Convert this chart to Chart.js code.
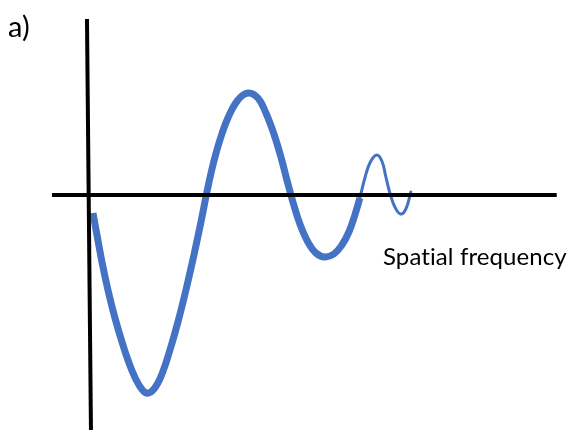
<!DOCTYPE html>
<html>
<head>
<meta charset="utf-8">
<title>Contrast transfer function</title>
<script src="https://cdn.jsdelivr.net/npm/chart.js@4/dist/chart.umd.min.js"></script>
<style>
  html, body { margin: 0; padding: 0; background: #fff; }
  #wrap { width: 573px; height: 430px; }
</style>
</head>
<body>
<div id="wrap"><canvas id="ctf" width="573" height="430"></canvas></div>
<script>
// spatial frequency (arbitrary units) and CTF amplitude
const freqMain = [0.0063, 0.0188, 0.0344, 0.0531, 0.075, 0.1, 0.125, 0.15, 0.1734, 0.1969, 0.2219, 0.2469, 0.2719,
  0.2969, 0.3219, 0.3438, 0.3625, 0.3813, 0.4031, 0.4281, 0.4594, 0.4906, 0.5219, 0.5469, 0.5719, 0.5938, 0.6125,
  0.6313, 0.6531, 0.6781, 0.7031, 0.7313, 0.7594, 0.7844, 0.8063, 0.825, 0.8406];
const ampMain = [-0.09, -0.2, -0.335, -0.475, -0.615, -0.75, -0.865, -0.95, -0.99, -0.97, -0.895, -0.775, -0.635,
  -0.475, -0.3, -0.135, 0.015, 0.15, 0.275, 0.385, 0.475, 0.51, 0.485, 0.41, 0.305, 0.19, 0.075,
  -0.035, -0.145, -0.235, -0.29, -0.31, -0.295, -0.25, -0.185, -0.1, -0.015];

// damped tail at high frequency, drawn thinner
const freqTail = [0.8406, 0.8563, 0.8719, 0.8928, 0.9094, 0.9219, 0.9344, 0.95, 0.9678, 0.9844, 1.0];
const ampTail = [-0.015, 0.085, 0.16, 0.2, 0.17, 0.09, 0.01, -0.06, -0.095, -0.07, 0.015];

// hand-drawn axes
const xAxisLine = [[-0.122, 0], [1.456, 0]];
const yAxisLine = [[-0.0125, 0.88], [0, -1.175]];

const blue = "#4472C4";

function toPoints(xs, ys) {
  return xs.map((x, i) => ({ x: x, y: ys[i] }));
}

const labels = {
  id: "labels",
  afterDraw(chart) {
    const ctx = chart.ctx;
    ctx.save();
    ctx.fillStyle = "#000";
    ctx.textBaseline = "alphabetic";
    // tiny spacing keeps the "ti" pair from being joined
    ctx.letterSpacing = "0.1px";
    ctx.font = "29px Lato, 'Open Sans', sans-serif";
    ctx.fillText("a)", 8, 37);
    ctx.font = "24px Lato, 'Open Sans', sans-serif";
    ctx.fillText("Spatial frequency", 383, 265);
    ctx.restore();
  }
};

new Chart(document.getElementById("ctf"), {
  type: "line",
  data: {
    datasets: [
      {
        data: xAxisLine.map(p => ({ x: p[0], y: p[1] })),
        borderColor: "#000",
        borderWidth: 4,
        pointRadius: 0
      },
      {
        data: yAxisLine.map(p => ({ x: p[0], y: p[1] })),
        borderColor: "#000",
        borderWidth: 4,
        pointRadius: 0
      },
      {
        data: toPoints(freqMain, ampMain),
        borderColor: blue,
        borderWidth: 7,
        borderCapStyle: "butt",
        tension: 0.4,
        pointRadius: 0
      },
      {
        data: toPoints(freqTail, ampTail),
        borderColor: blue,
        borderWidth: 3,
        borderCapStyle: "round",
        tension: 0.4,
        pointRadius: 0
      }
    ]
  },
  options: {
    responsive: false,
    animation: false,
    layout: { padding: 0 },
    plugins: { legend: { display: false }, tooltip: { enabled: false } },
    scales: {
      x: { type: "linear", display: false, min: -0.284375, max: 1.506875 },
      y: { type: "linear", display: false, min: -1.175, max: 0.975 }
    }
  },
  plugins: [labels]
});
</script>
</body>
</html>
